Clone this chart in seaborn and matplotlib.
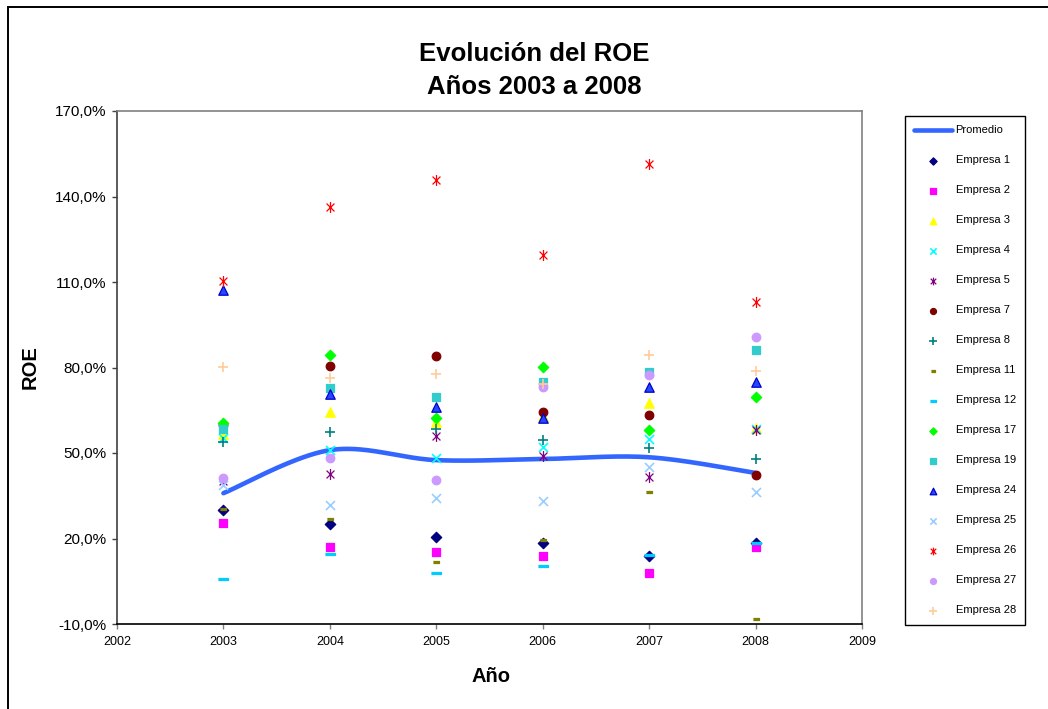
import numpy as np
import pandas as pd
import matplotlib
matplotlib.use("Agg")
import matplotlib.pyplot as plt
import seaborn as sns
from matplotlib.path import Path
from matplotlib.patches import Rectangle
from matplotlib.ticker import FuncFormatter, FixedLocator

sns.set_style("white")
plt.rcParams["font.family"] = ["Liberation Sans", "DejaVu Sans"]
plt.rcParams["text.color"] = "black"
plt.rcParams["axes.labelcolor"] = "black"
plt.rcParams["xtick.color"] = "black"
plt.rcParams["ytick.color"] = "black"

# ---------------- data (ROE in %) ----------------
years = [2003, 2004, 2005, 2006, 2007, 2008]
promedio = [35.9, 51.0, 47.5, 47.9, 48.5, 43.0]
empresa_1 = [30.0, 25.1, 20.6, 18.5, 13.9, 18.5]
empresa_2 = [25.6, 17.1, 15.4, 13.9, 7.8, 17.1]
empresa_3 = [56.7, 64.5, 61.0, 63.0, 67.4, 58.7]
empresa_4 = [55.2, 51.1, 48.1, 52.0, 54.8, 58.5]
empresa_5 = [40.3, 42.5, 56.0, 49.0, 41.7, 58.1]
empresa_7 = [60.0, 80.5, 84.0, 64.5, 63.3, 42.3]
empresa_8 = [54.0, 57.5, 58.3, 54.6, 51.6, 47.8]
empresa_11 = [30.5, 26.7, 11.9, 19.5, 36.2, -8.4]
empresa_12 = [5.8, 14.6, 7.8, 10.4, 14.2, 18.3]
empresa_17 = [60.4, 84.4, 62.2, 80.3, 58.1, 69.5]
empresa_19 = [58.3, 72.7, 69.5, 75.0, 78.5, 86.1]
empresa_24 = [107.2, 70.6, 66.0, 62.2, 73.3, 75.0]
empresa_25 = [38.8, 31.8, 34.3, 33.3, 45.2, 36.4]
empresa_26 = [110.5, 136.3, 145.8, 119.5, 151.4, 102.9]
empresa_27 = [41.1, 48.4, 40.5, 73.3, 77.4, 90.6]
empresa_28 = [80.3, 76.2, 77.7, 74.2, 84.4, 78.9]

companies = ["Empresa 1", "Empresa 2", "Empresa 3", "Empresa 4", "Empresa 5",
             "Empresa 7", "Empresa 8", "Empresa 11", "Empresa 12", "Empresa 17",
             "Empresa 19", "Empresa 24", "Empresa 25", "Empresa 26", "Empresa 27",
             "Empresa 28"]
series = [empresa_1, empresa_2, empresa_3, empresa_4, empresa_5, empresa_7,
          empresa_8, empresa_11, empresa_12, empresa_17, empresa_19, empresa_24,
          empresa_25, empresa_26, empresa_27, empresa_28]
y_ticks = [-10, 20, 50, 80, 110, 140, 170]
x_ticks = [2002, 2003, 2004, 2005, 2006, 2007, 2008, 2009]

# ---------------- styles ----------------
asterisk = Path([(0, -1), (0, 1), (-0.72, -0.72), (0.72, 0.72), (-0.72, 0.72), (0.72, -0.72)],
                [Path.MOVETO, Path.LINETO, Path.MOVETO, Path.LINETO, Path.MOVETO, Path.LINETO])
dash_long = [(-1, -0.3), (1, -0.3), (1, 0.3), (-1, 0.3)]
dash_short = [(-1, -0.5), (1, -0.5), (1, 0.5), (-1, 0.5)]

# (marker, face, edge, size, filled)
styles = {
    "Empresa 1": ("D", "#000080", "#000080", 28, True),
    "Empresa 2": ("s", "#FF00FF", "#FF00FF", 36, True),
    "Empresa 3": ("^", "#FFFF00", "#FFFF00", 46, True),
    "Empresa 4": ("x", "#00FFFF", None, 42, False),
    "Empresa 5": (asterisk, "#800080", "#800080", 62, True),
    "Empresa 7": ("o", "#800000", "#800000", 38, True),
    "Empresa 8": ("+", "#008080", None, 58, False),
    "Empresa 11": (dash_short, "#808000", "#808000", 18, True),
    "Empresa 12": (dash_long, "#00CCFF", "#00CCFF", 48, True),
    "Empresa 17": ("D", "#00FF00", "#00FF00", 28, True),
    "Empresa 19": ("s", "#33CCCC", "#33CCCC", 36, True),
    "Empresa 24": ("^", "#2448FF", "#0000CC", 46, True),
    "Empresa 25": ("x", "#99CCFF", None, 42, False),
    "Empresa 26": (asterisk, "#FF0000", "#FF0000", 62, True),
    "Empresa 27": ("o", "#CC99FF", "#CC99FF", 38, True),
    "Empresa 28": ("+", "#FFCC99", None, 58, False),
}

W, H = 1048, 709
fig = plt.figure(figsize=(W / 100, H / 100), dpi=100)
ax = fig.add_axes([117 / W, 1 - 624 / H, (862 - 117) / W, (624 - 111) / H])


def smooth(xs, ys, n=40):
    P = np.column_stack([xs, ys]).astype(float)
    pts = np.vstack([P[0], P, P[-1]])
    out = []
    t = np.linspace(0, 1, n)[:, None]
    for i in range(1, len(pts) - 2):
        p0, p1, p2, p3 = pts[i - 1:i + 3]
        c1 = p1 + (p2 - p0) / 6
        c2 = p2 - (p3 - p1) / 6
        seg = (1 - t) ** 3 * p1 + 3 * (1 - t) ** 2 * t * c1 + 3 * (1 - t) * t ** 2 * c2 + t ** 3 * p2
        out.append(seg if i == 1 else seg[1:])
    return np.vstack(out)


sm = smooth(years, promedio)
sns.lineplot(x=sm[:, 0], y=sm[:, 1], sort=False, estimator=None, color="#3366FF",
             linewidth=3.3, label="Promedio", ax=ax, zorder=2)

for name, vals in zip(companies, series):
    m, fc, ec, s, filled = styles[name]
    df = pd.DataFrame({"Año": years, "ROE": vals})
    if filled:
        sns.scatterplot(data=df, x="Año", y="ROE", marker=m, s=s, color=fc,
                        edgecolor=ec, linewidth=0.9, label=name, ax=ax, zorder=3)
    else:
        sns.scatterplot(data=df, x="Año", y="ROE", marker=m, s=s, color=fc,
                        linewidth=1.2, label=name, ax=ax, zorder=3)

ax.set_xlim(2002, 2009)
ax.set_ylim(-10, 170)
ax.xaxis.set_major_locator(FixedLocator(x_ticks))
ax.yaxis.set_major_locator(FixedLocator(y_ticks))
ax.yaxis.set_major_formatter(FuncFormatter(lambda v, p: f"{v:.1f}%".replace(".", ",")))
ax.xaxis.set_major_formatter(FuncFormatter(lambda v, p: f"{int(round(v))}"))
ax.tick_params(axis="y", which="major", direction="out", length=3.5, width=1,
               color="#404040", labelcolor="black", labelsize=11, pad=4, left=True)
ax.tick_params(axis="x", which="major", direction="out", length=3.5, width=1,
               color="#808080", labelcolor="black", labelsize=9, pad=5, bottom=True)
ax.grid(False)

for side, col in [("left", "#404040"), ("bottom", "#000000"), ("top", "#808080"), ("right", "#808080")]:
    ax.spines[side].set_visible(True)
    ax.spines[side].set_color(col)
    ax.spines[side].set_linewidth(1.2)

ax.set_ylabel("ROE", fontsize=14.5, fontweight="bold", va="center", color="black")
ax.yaxis.set_label_coords((30 - 117) / 745, 0.5)
ax.set_xlabel("Año", fontsize=14.5, fontweight="bold", va="center", color="black")
ax.xaxis.set_label_coords((491 - 117) / 745, (624 - 676) / 513)

fig.text(534 / W, 1 - 54 / H, "Evolución del ROE", ha="center", va="center",
         fontsize=18.5, fontweight="bold", color="black")
fig.text(534 / W, 1 - 87 / H, "Años 2003 a 2008", ha="center", va="center",
         fontsize=18.5, fontweight="bold", color="black")

handles, labels = ax.get_legend_handles_labels()
leg = ax.legend(handles, labels, loc="upper left", bbox_to_anchor=(905 / W, 1 - 116 / H),
                bbox_transform=fig.transFigure, borderaxespad=0, fontsize=8,
                frameon=True, fancybox=False, edgecolor="#000000", framealpha=1,
                handlelength=3.4, handletextpad=0.3, labelspacing=1.8,
                borderpad=0.85, markerscale=0.7)
leg.get_frame().set_linewidth(1.0)
for txt in leg.get_texts():
    txt.set_color("black")

fig.patches.append(Rectangle((8 / W, -0.2), 1.2, 1 - 7 / H + 0.2, transform=fig.transFigure,
                             fill=False, edgecolor="black", linewidth=1.4))

fig.savefig("out.png", dpi=100)
